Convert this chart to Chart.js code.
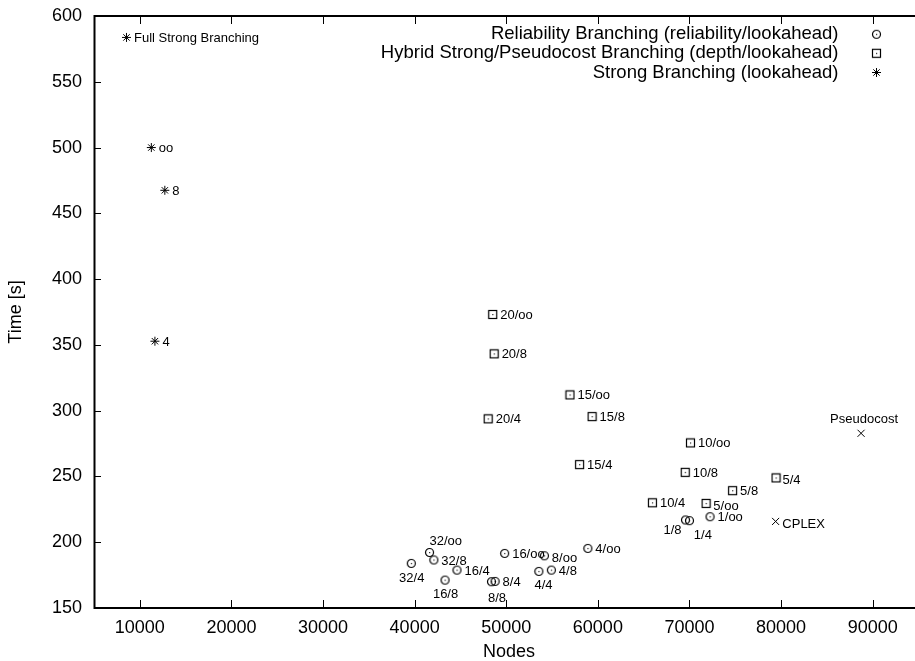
<!DOCTYPE html>
<html><head><meta charset="utf-8">
<script src="https://cdn.jsdelivr.net/npm/chart.js@4.4.0/dist/chart.umd.min.js"></script>
<style>html,body{margin:0;padding:0;overflow:hidden;background:#fff}#wrap{width:930px;height:661px;position:relative}</style>
</head><body><div id="wrap"><canvas id="c" width="930" height="661"></canvas></div>
<script>
// ---- data ----
const reliabilityLabels = ['32/oo','32/8','32/4','16/oo','16/4','16/8','8/oo','8/4','8/8','4/oo','4/8','4/4','1/oo','1/8','1/4'];
const reliabilityNodes = [41627,42093,39631,49826,44620,43319,54165,48785,48384,58905,54924,53557,72245,69566,70000];
const reliabilityTime  = [192.2,186.5,183.9,191.5,178.8,171.2,189.7,170.2,170.0,195.3,178.8,177.8,219.4,216.9,216.4];

const hybridLabels = ['20/oo','20/8','20/4','15/oo','15/8','15/4','10/oo','10/8','10/4','5/oo','5/8','5/4'];
const hybridNodes = [48525,48677,48026,56952,59371,58004,70108,69534,65954,71811,74707,79447];
const hybridTime  = [373.1,343.2,293.8,312.0,295.5,259.0,275.5,253.1,230.0,229.5,239.2,248.9];

const strongLabels = ['Full Strong Branching','oo','8','4'];
const strongNodes = [8547,11258,12733,11650];
const strongTime  = [583.7,500.0,467.5,352.8];

const otherLabels = ['CPLEX','Pseudocost'];
const otherNodes = [79403,88731];
const otherTime  = [215.8,282.8];

const xTicks = [10000,20000,30000,40000,50000,60000,70000,80000,90000];
const yTicks = [150,200,250,300,350,400,450,500,550,600];

const legendNames = ['Reliability Branching (reliability/lookahead)','Hybrid Strong/Pseudocost Branching (depth/lookahead)','Strong Branching (lookahead)'];

// ---- layout of point labels (pixel offsets from the point) ----
const labelPlacement = {
  '32/oo':[0,-11,'left'], '32/4':[0.5,14.6,'center'], '16/8':[0.5,14.7,'center'],
  '8/8':[5.5,16.5,'center'], '4/4':[4.6,14.3,'center'], '1/8':[-13,10,'center'],
  '1/4':[13.4,14.3,'center'], 'Pseudocost':[3,-14,'center'],
  '8/oo':[7.4,2.3,'left'], 'CPLEX':[6.7,2.6,'left'], '5/oo':[7.3,3,'left'], '5/4':[6.4,3,'left']
};
const defaultPlacement = [7.5,1,'left'];

const FONT = "'Liberation Sans', Arial, Helvetica, sans-serif";

function makeMarker(kind){
  const c=document.createElement('canvas'); c.width=11; c.height=11;
  const g=c.getContext('2d'); g.strokeStyle='#000'; g.lineWidth=1.2;
  if(kind==='circle'){ g.beginPath(); g.arc(5.5,5.5,4,0,2*Math.PI); g.stroke(); }
  else { g.strokeRect(1.5,1.5,8,8); }
  g.fillStyle='#222'; g.fillRect(5,5,1.2,1.2);
  return c;
}
const circleMarker = makeMarker('circle');
const squareMarker = makeMarker('square');

function pts(xs,ys){ return xs.map((x,i)=>({x:x,y:ys[i]})); }

const frame = {
  id:'frame',
  afterDraw(chart){
    const {ctx, chartArea:a, scales:{x,y}} = chart;
    ctx.save();
    ctx.strokeStyle='#000';
    ctx.lineWidth=1;
    ctx.beginPath();
    xTicks.forEach(v=>{ const px=Math.round(x.getPixelForValue(v))+0.5;
      ctx.moveTo(px,a.bottom); ctx.lineTo(px,a.bottom-8);
      ctx.moveTo(px,a.top); ctx.lineTo(px,a.top+8); });
    yTicks.forEach(v=>{ const py=Math.round(y.getPixelForValue(v))+0.5;
      ctx.moveTo(a.left,py); ctx.lineTo(a.left+7,py);
      ctx.moveTo(a.right,py); ctx.lineTo(a.right-7,py); });
    ctx.stroke();
    ctx.lineWidth=2;
    ctx.strokeRect(a.left+0.5,a.top,a.right-a.left,a.bottom-a.top);
    ctx.restore();
  }
};

const pointLabels = {
  id:'pointLabels',
  afterDatasetsDraw(chart){
    const ctx=chart.ctx; ctx.save();
    ctx.fillStyle='#000'; ctx.font='13px '+FONT; ctx.textBaseline='middle';
    chart.data.datasets.forEach((ds,i)=>{
      const meta=chart.getDatasetMeta(i);
      meta.data.forEach((el,j)=>{
        const t=ds.pointNames[j];
        const p=labelPlacement[t]||defaultPlacement;
        ctx.textAlign=p[2];
        ctx.fillText(t, el.x+p[0], el.y+p[1]);
      });
    });
    ctx.restore();
  }
};

const legendPlugin = {
  id:'legendRight',
  afterDraw(chart){
    const ctx=chart.ctx; ctx.save();
    ctx.fillStyle='#000'; ctx.font='18.5px '+FONT; ctx.textBaseline='middle'; ctx.textAlign='right';
    const rows=[34.3,53.3,72.5], tx=838.5, mx=876.5;
    legendNames.forEach((n,i)=>ctx.fillText(n,tx,rows[i]));
    ctx.drawImage(circleMarker, mx-5.5, rows[0]-5.5);
    ctx.drawImage(squareMarker, mx-5.5, rows[1]-5.5);
    ctx.strokeStyle='#000';
    Chart.helpers.drawPoint(ctx,{pointStyle:'star',radius:4.5,borderWidth:1,rotation:0},mx,rows[2]);
    ctx.restore();
  }
};

new Chart(document.getElementById('c'),{
  type:'scatter',
  data:{datasets:[
    {label:legendNames[0], data:pts(reliabilityNodes,reliabilityTime), pointNames:reliabilityLabels,
     pointStyle:circleMarker, pointRadius:5, borderColor:'#000', backgroundColor:'#000'},
    {label:legendNames[1], data:pts(hybridNodes,hybridTime), pointNames:hybridLabels,
     pointStyle:squareMarker, pointRadius:5, borderColor:'#000', backgroundColor:'#000'},
    {label:legendNames[2], data:pts(strongNodes,strongTime), pointNames:strongLabels,
     pointStyle:'star', pointRadius:4.5, borderWidth:1, borderColor:'#000', backgroundColor:'#000'},
    {label:'other', data:pts(otherNodes,otherTime), pointNames:otherLabels,
     pointStyle:'crossRot', pointRadius:5, borderWidth:1, borderColor:'#000', backgroundColor:'#000'}
  ]},
  options:{
    responsive:false, animation:false, devicePixelRatio:1,
    layout:{padding:{top:16,left:0,right:0,bottom:0}},
    plugins:{legend:{display:false}, tooltip:{enabled:false}},
    scales:{
      x:{type:'linear', position:'bottom', min:5000, max:95600,
        grid:{display:false, drawTicks:false}, border:{display:false},
        afterBuildTicks:s=>{ s.ticks = xTicks.map(v=>({value:v})); },
        ticks:{font:{family:FONT,size:18}, color:'#000', padding:9, maxRotation:0, autoSkip:false, callback:v=>String(v)},
        title:{display:true, text:'Nodes', color:'#000', font:{family:FONT,size:18,lineHeight:1}, padding:0},
        afterFit:s=>{ s.height=53; s.paddingLeft=0; s.paddingRight=0; }
      },
      y:{type:'linear', min:150, max:600,
        grid:{display:false, drawTicks:false}, border:{display:false},
        afterBuildTicks:s=>{ s.ticks = yTicks.map(v=>({value:v})); },
        ticks:{font:{family:FONT,size:18}, color:'#000', padding:12, callback:v=>String(v)},
        title:{display:true, text:'Time [s]', color:'#000', font:{family:FONT,size:18,lineHeight:1}, padding:{top:7,bottom:0}},
        afterFit:s=>{ s.width=94; s.paddingTop=0; s.paddingBottom=0; }
      }
    }
  },
  plugins:[frame, pointLabels, legendPlugin]
});
</script></body></html>
